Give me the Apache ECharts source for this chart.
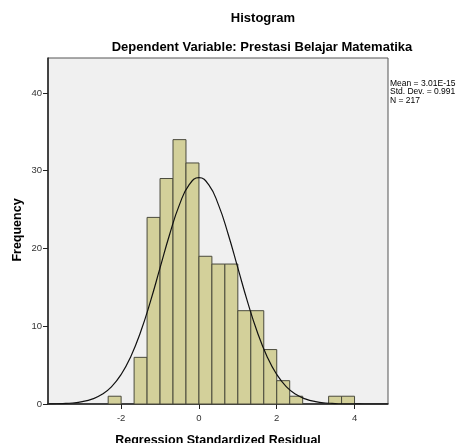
<!DOCTYPE html>
<html>
<head>
<meta charset="utf-8">
<script src="https://cdn.jsdelivr.net/npm/echarts@6/dist/echarts.min.js"></script>
<style>
html,body{margin:0;padding:0;background:#fff;}
#c{width:463px;height:443px;}
</style>
</head>
<body>
<div id="c"></div>
<script>
// Histogram bins (edges in residual units) and frequencies
const binStarts = [-7/3, -2, -5/3, -4/3, -1, -2/3, -1/3, 0, 1/3, 2/3, 1, 4/3, 5/3, 2, 7/3, 8/3, 3, 10/3, 11/3];
const binEnds   = [-2, -5/3, -4/3, -1, -2/3, -1/3, 0, 1/3, 2/3, 1, 4/3, 5/3, 2, 7/3, 8/3, 3, 10/3, 11/3, 4];
const counts    = [1, 0, 6, 24, 29, 34, 31, 19, 18, 18, 12, 12, 7, 3, 1, 0, 0, 1, 1];

// Normal curve
const curveX = [-3.85, -3.75, -3.5, -3.25, -3, -2.75, -2.5, -2.25, -2, -1.75, -1.5, -1.25, -1, -0.75, -0.5, -0.25, 0,
                0.25, 0.5, 0.75, 1, 1.25, 1.5, 1.75, 2, 2.25, 2.5, 2.75, 3, 3.25, 3.5, 3.75, 4, 4.25, 4.5, 4.85];
const curveY = [0.015, 0.023, 0.057, 0.13, 0.30, 0.62, 1.21, 2.21, 3.80, 6.12, 9.26, 13.14, 17.50, 21.87, 25.64, 28.21, 29.12,
                28.21, 25.64, 21.87, 17.50, 13.14, 9.26, 6.12, 3.80, 2.21, 1.21, 0.62, 0.30, 0.13, 0.057, 0.023, 0.008, 0.003, 0.001, 0.0003];

const xTicks = [-2, 0, 2, 4];
const statsLines = ['Mean = 3.01E-15', 'Std. Dev. = 0.991', 'N = 217'];

const histData = binStarts.map((s, i) => [s, binEnds[i], counts[i]]);
const curveData = curveX.map((x, i) => [x, curveY[i]]);

const chart = echarts.init(document.getElementById('c'), null, {renderer: 'canvas'});
const font = '"Liberation Sans", Arial, sans-serif';

chart.setOption({
  animation: false,
  backgroundColor: '#ffffff',
  title: [
    {text: 'Histogram', left: 258, top: 7, textAlign: 'center',
     textStyle: {fontFamily: font, fontSize: 13, fontWeight: 'bold', color: '#000'}},
    {text: 'Dependent Variable: Prestasi Belajar Matematika', left: 257, top: 36, textAlign: 'center',
     textStyle: {fontFamily: font, fontSize: 13, fontWeight: 'bold', color: '#000'}}
  ],
  graphic: [
    {type: 'text', left: 390, top: 79,
     style: {text: statsLines.join('\n'), font: '8.5px ' + font, fill: '#000', lineHeight: 8.5}},
    {type: 'text', x: 18, y: 230, rotation: Math.PI / 2,
     style: {text: 'Frequency', font: 'bold 12.5px ' + font, fill: '#000',
             align: 'center', verticalAlign: 'middle'}}
  ],
  grid: {left: 48, right: 75, top: 58, bottom: 39, show: true, containLabel: false,
         outerBoundsMode: 'none',
         backgroundColor: '#f0f0f0', borderColor: '#555', borderWidth: 1},
  xAxis: {
    type: 'value', min: -3.88, max: 4.86,
    name: 'Regression Standardized Residual', nameLocation: 'middle', nameGap: 30,
    nameTextStyle: {fontFamily: font, fontSize: 12.5, fontWeight: 'bold', color: '#000'},
    axisLine: {show: true, onZero: false, lineStyle: {color: '#222', width: 1.5}},
    axisTick: {show: true, customValues: xTicks, length: 5, inside: false, lineStyle: {color: '#222'}},
    axisLabel: {customValues: xTicks, fontFamily: font, fontSize: 9.5, color: '#333', margin: 9},
    splitLine: {show: false}
  },
  yAxis: {
    type: 'value', min: 0, max: 44.5, interval: 10,
    axisLine: {show: true, onZero: false, lineStyle: {color: '#222', width: 1.5}},
    axisTick: {show: true, length: 5, lineStyle: {color: '#222'}},
    axisLabel: {fontFamily: font, fontSize: 9.5, color: '#333', margin: 6,
                showMaxLabel: false},
    splitLine: {show: false}
  },
  series: [
    {
      type: 'custom',
      data: histData,
      encode: {x: [0, 1], y: 2},
      renderItem: function (params, api) {
        const v = api.value(2);
        if (!v) return null;
        const p0 = api.coord([api.value(0), v]);
        const p1 = api.coord([api.value(1), 0]);
        return {
          type: 'rect',
          shape: {x: p0[0], y: p0[1], width: p1[0] - p0[0], height: p1[1] - p0[1]},
          style: {fill: '#d3d09a', stroke: '#4a4a3c', lineWidth: 1}
        };
      },
      z: 2
    },
    {
      type: 'line',
      data: curveData,
      smooth: true,
      showSymbol: false,
      lineStyle: {color: '#111', width: 1.2},
      z: 3
    }
  ]
});
</script>
</body>
</html>
